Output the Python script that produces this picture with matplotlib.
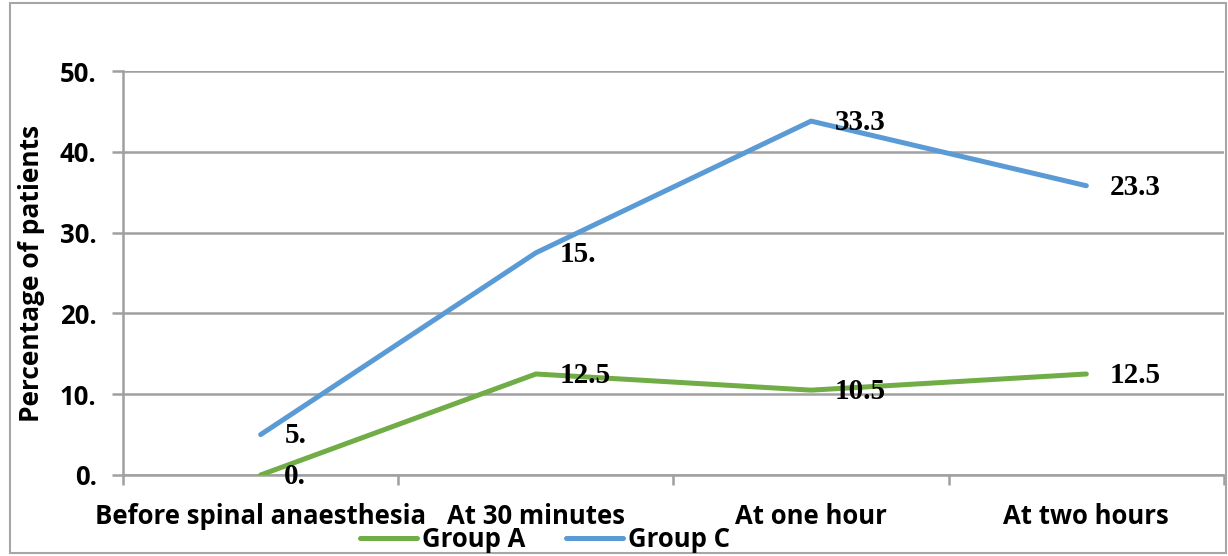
import matplotlib
matplotlib.use("Agg")
import matplotlib.pyplot as plt
from matplotlib.patches import Rectangle
from matplotlib.ticker import FuncFormatter, FixedLocator
import numpy as np

categories = ["Before spinal anaesthesia", "At 30 minutes", "At one hour", "At two hours"]
group_a = [0.0, 12.5, 10.5, 12.5]
group_c = [5.0, 15.0, 33.3, 23.3]
y_ticks = [0, 10, 20, 30, 40, 50]

GREEN = "#70AD47"
BLUE = "#5B9BD5"
GRID = "#A0A0A0"
SANS = ["Open Sans", "DejaVu Sans"]
SERIF = ["Liberation Serif", "DejaVu Serif"]
SANS_SIZE = 18.5

fig = plt.figure(figsize=(12.28, 5.56), dpi=100)
ax = fig.add_axes([0.1002, 0.1457, 0.8965, 0.7266])

# stacked line layout: Group C sits on top of Group A
x = np.arange(len(categories)) + 0.5
a = np.array(group_a)
c_top = a + np.array(group_c)

ax.plot(x, a, color=GREEN, lw=3.6, solid_capstyle="round", label="Group A", zorder=3)
ax.plot(x, c_top, color=BLUE, lw=3.6, solid_capstyle="round", label="Group C", zorder=3)


def fmt(v):
    return f"{v:.0f}." if v == int(v) else f"{v:g}"


for xs, ys, vals in ((x, a, group_a), (x, c_top, group_c)):
    for xi, yi, v in zip(xs, ys, vals):
        ax.annotate(fmt(v), (xi, yi), xytext=(17, -1),
                    textcoords="offset points", ha="left", va="center",
                    fontsize=21, fontweight="bold", family=SERIF, zorder=4)

ax.set_xlim(0, len(categories))
ax.set_ylim(0, 50)
ax.yaxis.set_major_locator(FixedLocator(y_ticks))
ax.yaxis.set_major_formatter(FuncFormatter(lambda v, p: f"{v:.0f}."))
ax.grid(axis="y", color=GRID, lw=1.8, zorder=0)

ax.set_xticks(np.arange(len(categories) + 1))
ax.set_xticklabels([])
ax.set_xticks(x, minor=True)
ax.set_xticklabels(categories, minor=True)
ax.tick_params(axis="x", which="major", length=7, width=1.8, color=GRID, direction="out")
ax.tick_params(axis="x", which="minor", length=0, pad=20)
ax.tick_params(axis="y", length=8, width=1.8, color=GRID, direction="out", pad=11)
for lab in ax.get_xticklabels(minor=True) + ax.get_yticklabels():
    lab.set_fontsize(SANS_SIZE)
    lab.set_fontweight("bold")
    lab.set_family(SANS)

for side in ("top", "right"):
    ax.spines[side].set_visible(False)
ax.spines["left"].set_color(GRID)
ax.spines["left"].set_linewidth(1.8)
ax.spines["bottom"].set_color(GRID)
ax.spines["bottom"].set_linewidth(1.8)

ax.set_ylabel("Percentage of patients", fontsize=19, fontweight="bold", family=SANS)
ax.yaxis.set_label_coords(-0.071, 0.5)

fig.legend(loc="center", bbox_to_anchor=(0.444, 0.029), ncol=2, frameon=False,
           prop={"family": SANS, "weight": "bold", "size": SANS_SIZE},
           handlelength=2.2, handletextpad=0.2, columnspacing=1.6)

fig.patches.append(Rectangle((10 / 1228, 3 / 556), 1216 / 1228, 550 / 556,
                             transform=fig.transFigure, fill=False,
                             edgecolor="#A6A6A6", lw=1.5))

fig.savefig("out.png", dpi=100)
